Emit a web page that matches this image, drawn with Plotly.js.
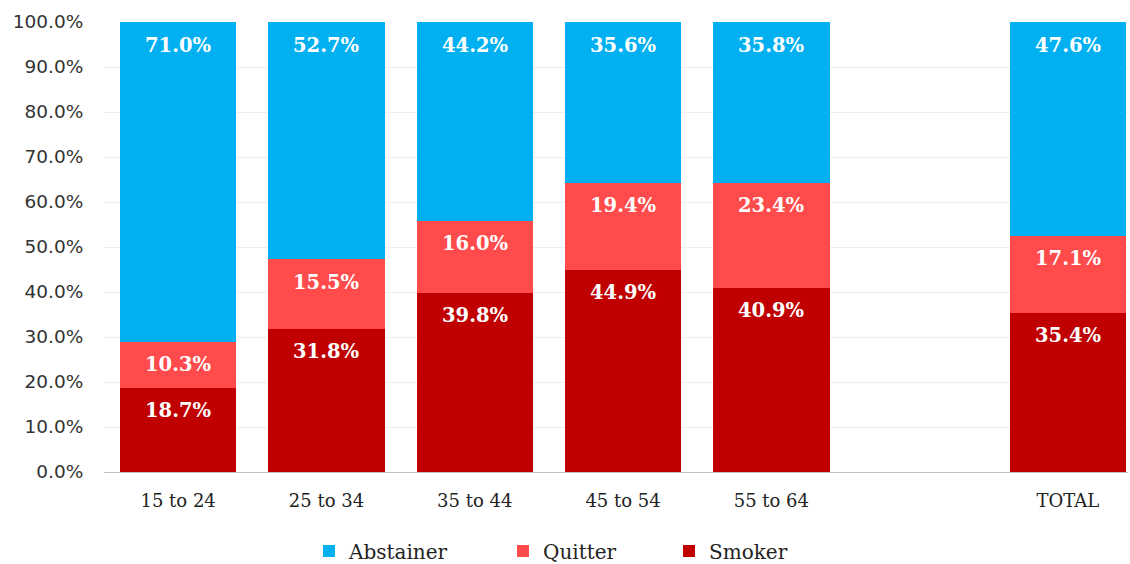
<!DOCTYPE html>
<html>
<head>
<meta charset="utf-8">
<script src="https://cdn.plot.ly/plotly-3.0.1.min.js"></script>
<style>
  html, body { margin: 0; padding: 0; background: #fff; }
  #chart { width: 1130px; height: 564px; }
</style>
</head>
<body>
<div id="chart"></div>
<script>
// Age groups (blank slot separates the groups from the total)
const categories = ['15 to 24', '25 to 34', '35 to 44', '45 to 54', '55 to 64', ' ', 'TOTAL'];

// Share of each smoking status per group, in percent
const smoker    = [18.7, 31.8, 39.8, 44.9, 40.9, null, 35.4];
const quitter   = [10.3, 15.5, 16.0, 19.4, 23.4, null, 17.1];
const abstainer = [71.0, 52.7, 44.2, 35.6, 35.8, null, 47.6];

const yTicks = [0, 10, 20, 30, 40, 50, 60, 70, 80, 90, 100];

const series = [
  { name: 'Smoker',    values: smoker,    color: '#C00000', legend: 'legend3' },
  { name: 'Quitter',   values: quitter,   color: '#FF4B4B', legend: 'legend2' },
  { name: 'Abstainer', values: abstainer, color: '#00B0F0', legend: 'legend'  }
];

const serif = 'DejaVu Serif, Liberation Serif, serif';

const traces = series.map(s => ({
  type: 'bar',
  name: s.name,
  x: categories,
  y: s.values,
  legend: s.legend,
  marker: { color: s.color, line: { width: 0 } },
  hoverinfo: 'skip'
}));

// Value labels sit just below the top of each stacked segment
const annotations = [];
const running = categories.map(() => 0);
series.forEach(s => {
  s.values.forEach((v, i) => {
    if (v === null) return;
    running[i] += v;
    annotations.push({
      x: categories[i],
      y: Math.min(running[i], 100),
      xref: 'x', yref: 'y',
      text: v.toFixed(1) + '%',
      showarrow: false,
      yanchor: 'middle',
      yshift: -23,
      font: { family: serif, size: 19.5, color: '#ffffff', weight: 'bold' }
    });
  });
});

// One legend box per series so the entries can be spaced evenly
function legendAt(xPx) {
  return {
    orientation: 'h',
    xref: 'container', yref: 'paper',
    x: xPx / 1130, xanchor: 'left',
    y: -0.1756, yanchor: 'middle',
    font: { family: serif, size: 20, color: '#222' },
    bgcolor: 'rgba(0,0,0,0)',
    itemclick: false
  };
}

const layout = {
  width: 1130,
  height: 564,
  margin: { l: 104, r: 2, t: 22, b: 92, autoexpand: false },
  paper_bgcolor: '#ffffff',
  plot_bgcolor: '#ffffff',
  barmode: 'stack',
  bargap: 0.215,
  showlegend: true,
  legend: legendAt(309),
  legend2: legendAt(503),
  legend3: legendAt(669),
  xaxis: {
    type: 'category',
    categoryorder: 'array',
    categoryarray: categories,
    range: [-0.5, 6.405],
    showgrid: false,
    showline: true,
    linecolor: '#BFBFBF',
    linewidth: 1,
    ticks: 'outside',
    ticklen: 12,
    tickcolor: 'rgba(0,0,0,0)',
    tickfont: { family: serif, size: 18, color: '#222' },
    zeroline: false,
    fixedrange: true
  },
  yaxis: {
    range: [0, 100],
    tickvals: yTicks,
    ticktext: yTicks.map(t => t.toFixed(1) + '%'),
    showgrid: true,
    gridcolor: '#EEEEEE',
    gridwidth: 1,
    zeroline: false,
    showline: false,
    ticks: 'outside',
    ticklen: 16,
    tickcolor: 'rgba(0,0,0,0)',
    tickfont: { family: 'DejaVu Sans, sans-serif', size: 18.5, color: '#333' },
    fixedrange: true
  },
  annotations: annotations
};

Plotly.newPlot('chart', traces, layout, { displayModeBar: false, staticPlot: true });
</script>
</body>
</html>
